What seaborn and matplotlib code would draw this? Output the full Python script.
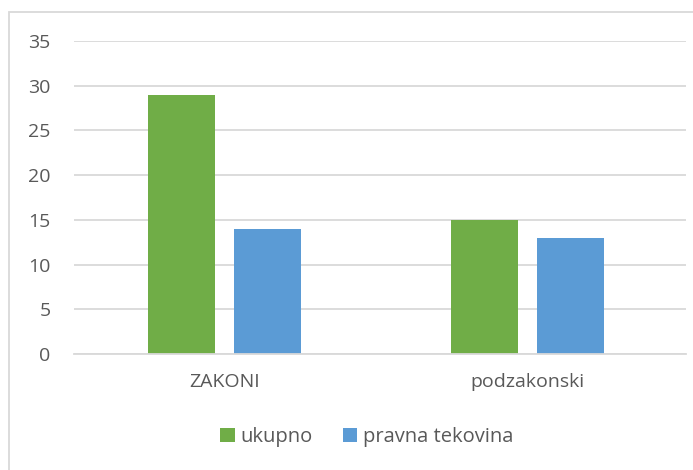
import pandas as pd
import matplotlib.pyplot as plt
import seaborn as sns
from matplotlib.patches import Rectangle

# podaci
categories = ['ZAKONI', 'podzakonski']
series = ['ukupno', 'pravna tekovina']
ukupno = [29, 15]
pravna_tekovina = [14, 13]
y_ticks = [0, 5, 10, 15, 20, 25, 30, 35]

df = pd.DataFrame({
    'kategorija': categories * 2,
    'serija': [series[0]] * 2 + [series[1]] * 2,
    'vrijednost': ukupno + pravna_tekovina,
})

sns.set_style('white')
plt.rcParams['font.family'] = ['Open Sans', 'DejaVu Sans']

fig = plt.figure(figsize=(6.93, 4.70), dpi=100)
ax = fig.add_axes([74 / 693, 1 - 354 / 470, 612 / 693, 313 / 470])

sns.barplot(data=df, x='kategorija', y='vrijednost', hue='serija',
            palette=['#70AD47', '#5B9BD5'], width=0.568, gap=0.22,
            saturation=1, linewidth=0, ax=ax, legend=True)

ax.set_ylim(0, 35)
ax.set_xlim(-0.497, 1.523)
ax.set_yticks(y_ticks)
ax.yaxis.grid(True, color='#d9d9d9', linewidth=1.3)
ax.set_axisbelow(True)
for side in ['top', 'right', 'left']:
    ax.spines[side].set_visible(False)
ax.spines['bottom'].set_color('#d9d9d9')
ax.spines['bottom'].set_linewidth(1.3)
ax.tick_params(axis='both', length=0, labelsize=14, colors='#595959')
ax.tick_params(axis='y', pad=17)
ax.tick_params(axis='x', pad=14)
ax.set_xlabel('')
ax.set_ylabel('')

handles, labels = ax.get_legend_handles_labels()
ax.legend(handles, labels, loc='center', bbox_to_anchor=(367 / 693, 1 - 437 / 470),
          bbox_transform=fig.transFigure, ncol=2, frameon=False,
          handlelength=0.7, handleheight=0.7, handletextpad=0.3,
          columnspacing=1.5, fontsize=14.5, labelcolor='#595959')

# okvir grafikona
fig.patches.append(Rectangle((9 / 693, -0.1), 1.1, 1 - 12 / 470 + 0.1,
                             transform=fig.transFigure, fill=False,
                             edgecolor='#d9d9d9', linewidth=1.3))

fig.savefig('out.png', dpi=100)
plt.close(fig)
